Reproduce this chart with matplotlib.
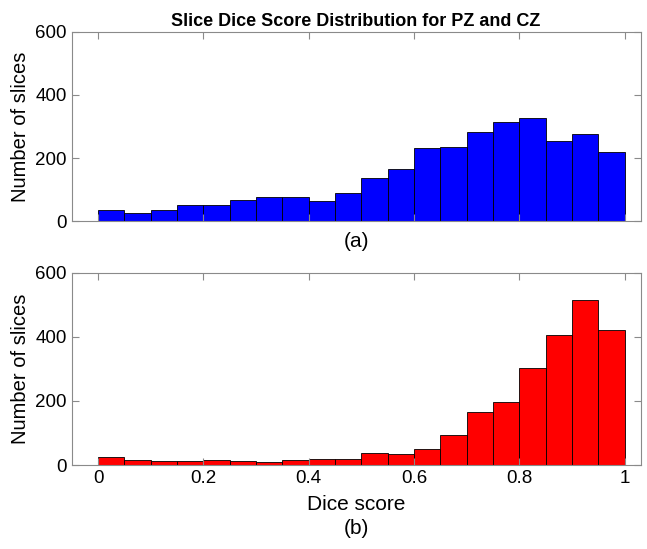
import numpy as np
import matplotlib.pyplot as plt

plt.rcParams['font.family'] = ['Liberation Sans', 'DejaVu Sans']

# histogram bins (20 bins of width 0.05 over [0, 1])
bin_edges = np.linspace(0, 1, 21)

# slice counts per bin
pz_counts = [36, 27, 37, 50, 53, 66, 78, 78, 65, 89,
             138, 165, 232, 236, 284, 314, 326, 254, 276, 220]
cz_counts = [26, 15, 13, 11, 15, 12, 8, 17, 19, 19,
             36, 34, 51, 93, 166, 197, 304, 407, 514, 422]

yticks = [0, 200, 400, 600]
xticks = [0, 0.2, 0.4, 0.6, 0.8, 1]
axis_grey = '#8a8a8a'

fig = plt.figure(figsize=(6.47, 5.49), dpi=100)
ax1 = fig.add_axes([0.111, 0.597, 0.879, 0.345])
ax2 = fig.add_axes([0.111, 0.153, 0.879, 0.350])

for ax, counts, col in [(ax1, pz_counts, '#0000ff'), (ax2, cz_counts, '#ff0000')]:
    ax.bar(bin_edges[:-1], counts, width=np.diff(bin_edges), align='edge',
           color=col, edgecolor='black', linewidth=0.6)
    ax.set_xlim(-0.05, 1.03)
    ax.set_ylim(0, 600)
    ax.set_yticks(yticks)
    ax.set_xticks(xticks)
    ax.tick_params(direction='in', top=True, right=True, length=5,
                   color=axis_grey, labelsize=13.5, width=0.8)
    for s in ax.spines.values():
        s.set_color(axis_grey)
        s.set_linewidth(0.8)
    ax.set_ylabel('Number of slices', fontsize=14.5)

ax1.set_xticklabels([])
ax1.set_xlabel('(a)', fontsize=15, labelpad=4)
ax1.set_title('Slice Dice Score Distribution for PZ and CZ',
              fontsize=13, fontweight='bold', pad=4)
ax2.set_xticklabels(['0', '0.2', '0.4', '0.6', '0.8', '1'])
ax2.set_xlabel('Dice score\n(b)', fontsize=15, labelpad=6, linespacing=1.35)

fig.savefig('out.png', dpi=100)
